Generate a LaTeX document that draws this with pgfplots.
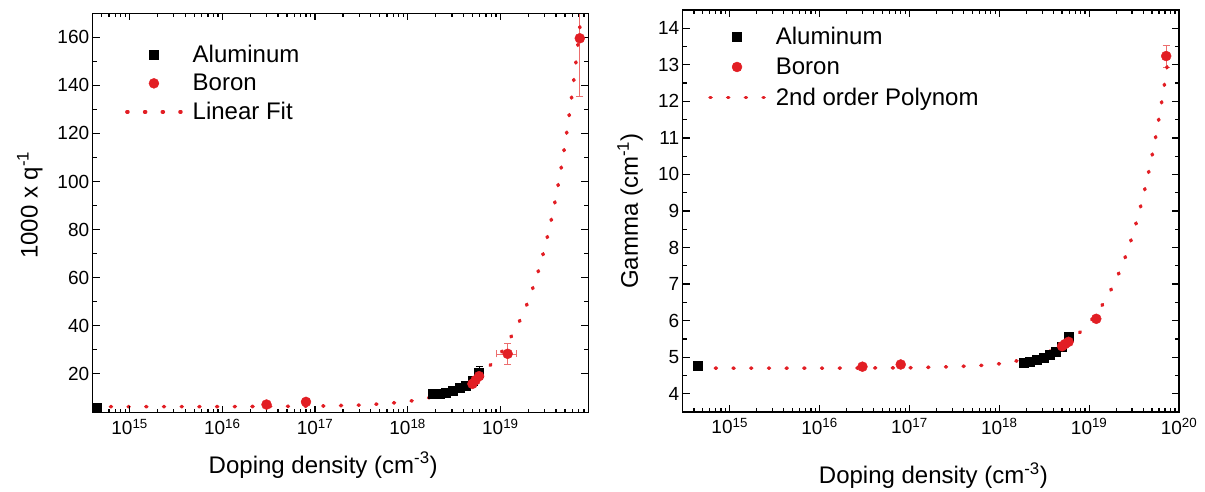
\documentclass[border=0pt]{standalone}
\usepackage{fontspec}
\setmainfont{Liberation Sans}
\usepackage{pgfplots}
\pgfplotsset{compat=1.18}

\definecolor{bred}{RGB}{226,30,36}
\definecolor{ebred}{RGB}{236,110,110}

% shared look of both panels
\pgfplotsset{
  scale only axis,
  axis on top,
  axis line style={line width=1.3pt},
  tick style={line width=1.3pt, black},
  xtick pos=both, ytick pos=both,
  major tick length=7pt,
  minor tick length=4pt,
  tick align=inside,
  ticklabel style={font=\fontsize{19}{22}\selectfont},
  xticklabel style={yshift=-3pt},
  label style={font=\fontsize{24}{28}\selectfont},
  /pgf/number format/assume math mode=true,
  % log minor ticks
  minor xtick={4e14,5e14,6e14,7e14,8e14,9e14,
    2e15,3e15,4e15,5e15,6e15,7e15,8e15,9e15,
    2e16,3e16,4e16,5e16,6e16,7e16,8e16,9e16,
    2e17,3e17,4e17,5e17,6e17,7e17,8e17,9e17,
    2e18,3e18,4e18,5e18,6e18,7e18,8e18,9e18,
    2e19,3e19,4e19,5e19,6e19,7e19,8e19,9e19},
  legend style={draw=none, fill=none, inner sep=0pt,
    font=\fontsize{24}{28}\selectfont, anchor=north west,
    row sep=10pt,
    nodes={inner sep=0pt},
    /tikz/every odd column/.append style={column sep=10pt}},
  legend cell align=left,
  legend image code/.code={\draw[mark repeat=2,mark phase=2,#1]
    plot coordinates {(0pt,0pt) (27pt,0pt) (54pt,0pt)};},
}

\begin{document}
\begin{tikzpicture}
\path (0pt,0pt) rectangle (1205pt,489pt);

% ---- left panel: 1000 x q^-1
\begin{semilogxaxis}[
  at={(92.7pt,76.3pt)}, anchor=south west,
  width=495.6pt, height=399.4pt,
  xmin=4.0e14, xmax=8.9e19, ymin=3.8, ymax=170,
  ytick={20,40,...,160}, minor y tick num=1,
  xtick={1e15,1e16,1e17,1e18,1e19},
  xticklabels={10\textsuperscript{15},10\textsuperscript{16},10\textsuperscript{17},10\textsuperscript{18},10\textsuperscript{19}},
  xlabel={Doping density (cm\textsuperscript{-3})},
  ylabel={1000 x q\textsuperscript{-1}},
  xlabel style={at={(axis description cs:0.465,-0.151)}, anchor=base},
  ylabel style={at={(axis description cs:-0.127,0.52)}, anchor=center},
  legend style={at={(axis description cs:0.065,0.92)}},
]
\addplot[only marks, mark=square*, mark size=4.5pt, black,
  error bars/y dir=both, error bars/y explicit,
  error bars/error bar style={line width=0.6pt},
  error bars/error mark options={rotate=90, mark size=3.5pt, line width=0.6pt}]
  coordinates {
  (4.4e14,5.8) +- (0,0.5)
  (1.85e18,11.7) +- (0,0.6)
  (2.2e18,11.9) +- (0,0.6)
  (2.6e18,12.3) +- (0,0.7)
  (3.1e18,13.0) +- (0,0.8)
  (3.6e18,14.0) +- (0,0.9)
  (4.2e18,15.2) +- (0,1.0)
  (5.0e18,17.0) +- (0,1.5)
  (5.9e18,20.3) +- (0,2.8)
};
\addlegendentry{Aluminum}
\addplot[only marks, mark=*, mark size=5pt, bred,
  error bars/y dir=both, error bars/y explicit,
  error bars/x dir=both, error bars/x explicit,
  error bars/error bar style={line width=0.6pt, ebred},
  error bars/error mark options={rotate=90, mark size=3.5pt, line width=0.6pt, ebred}]
  coordinates {
  (3.0e16,7.2) +- (0,0)
  (8.0e16,8.3) +- (0,0)
  (5.0e18,15.8) +- (0,0)
  (5.4e18,17.3) +- (0,0)
  (5.9e18,19.0) +- (0,0)
  (1.2e19,28.3) +- (0.3e19,4.2)
  (7.2e19,159.6) +- (0,24)
};
\addlegendentry{Boron}
\addplot[bred, line width=3.6pt, line cap=round,
  dash pattern=on 1pt off 16.7pt, no marks] coordinates {
  (4.0e14,6.30) (1e15,6.30) (1e16,6.32) (1e17,6.52) (3e17,6.96)
  (6e17,7.61) (1e18,8.49) (1.25e18,9.04) (1.5e18,9.59) (2e18,10.68)
  (2.5e18,11.78) (3e18,12.87) (4e18,15.06) (5e18,17.25) (7e18,21.63)
  (1e19,28.2) (1.5e19,39.15) (2e19,50.1) (2.5e19,61.05) (3e19,72.0)
  (3.5e19,82.95) (4e19,93.9) (4.5e19,104.85) (5e19,115.8)
  (5.5e19,126.75) (6e19,137.7) (6.5e19,148.65) (7e19,159.6)
  (7.5e19,170.55)
};
\addlegendentry{Linear Fit}
\end{semilogxaxis}

% ---- right panel: Gamma
\begin{semilogxaxis}[
  at={(682.7pt,77pt)}, anchor=south west,
  width=496.3pt, height=402pt,
  xmin=3.0e14, xmax=1e20, ymin=3.5, ymax=14.5,
  ytick={4,5,...,14}, minor y tick num=1,
  xtick={1e15,1e16,1e17,1e18,1e19,1e20},
  xticklabels={10\textsuperscript{15},10\textsuperscript{16},10\textsuperscript{17},10\textsuperscript{18},10\textsuperscript{19},10\textsuperscript{20}},
  xlabel={Doping density (cm\textsuperscript{-3})},
  ylabel={Gamma (cm\textsuperscript{-1})},
  xlabel style={at={(axis description cs:0.505,-0.177)}, anchor=base},
  ylabel style={at={(axis description cs:-0.106,0.5)}, anchor=center},
  legend style={at={(axis description cs:0.051,0.958)}, row sep=12pt},
]
\addplot[only marks, mark=square*, mark size=4.5pt, black,
  error bars/y dir=both, error bars/y explicit,
  error bars/error bar style={line width=0.6pt},
  error bars/error mark options={rotate=90, mark size=3.5pt, line width=0.6pt}]
  coordinates {
  (4.4e14,4.77) +- (0,0.03)
  (1.85e18,4.85) +- (0,0.03)
  (2.2e18,4.88) +- (0,0.03)
  (2.6e18,4.92) +- (0,0.03)
  (3.1e18,4.98) +- (0,0.03)
  (3.6e18,5.06) +- (0,0.04)
  (4.2e18,5.15) +- (0,0.04)
  (5.0e18,5.28) +- (0,0.05)
  (5.9e18,5.55) +- (0,0.06)
};
\addlegendentry{Aluminum}
\addplot[only marks, mark=*, mark size=5pt, bred,
  error bars/y dir=both, error bars/y explicit,
  error bars/error bar style={line width=0.6pt, ebred},
  error bars/error mark options={rotate=90, mark size=3.5pt, line width=0.6pt, ebred}]
  coordinates {
  (3.0e16,4.74) +- (0,0)
  (8.0e16,4.80) +- (0,0)
  (5.0e18,5.30) +- (0,0)
  (5.4e18,5.36) +- (0,0)
  (5.9e18,5.42) +- (0,0)
  (1.2e19,6.05) +- (0,0.05)
  (7.2e19,13.24) +- (0,0.3)
};
\addlegendentry{Boron}
\addplot[bred, line width=3.6pt, line cap=round,
  dash pattern=on 1pt off 16.7pt, no marks] coordinates {
  (4.4e14,4.70) (1e15,4.70) (1e16,4.70) (1e17,4.71) (3e17,4.74)
  (6e17,4.77) (1e18,4.82) (1.5e18,4.89) (2e18,4.95) (3e18,5.07)
  (4e18,5.20) (5e18,5.32) (7e18,5.56) (1e19,5.93) (1.5e19,6.53)
  (2e19,7.12) (2.5e19,7.71) (3e19,8.28) (3.5e19,8.85) (4e19,9.41)
  (4.5e19,9.96) (5e19,10.50) (5.5e19,11.03) (6e19,11.56)
  (6.5e19,12.07) (7e19,12.58) (7.4e19,12.98)
};
\addlegendentry{2nd order Polynom}
\end{semilogxaxis}
\end{tikzpicture}
\end{document}
